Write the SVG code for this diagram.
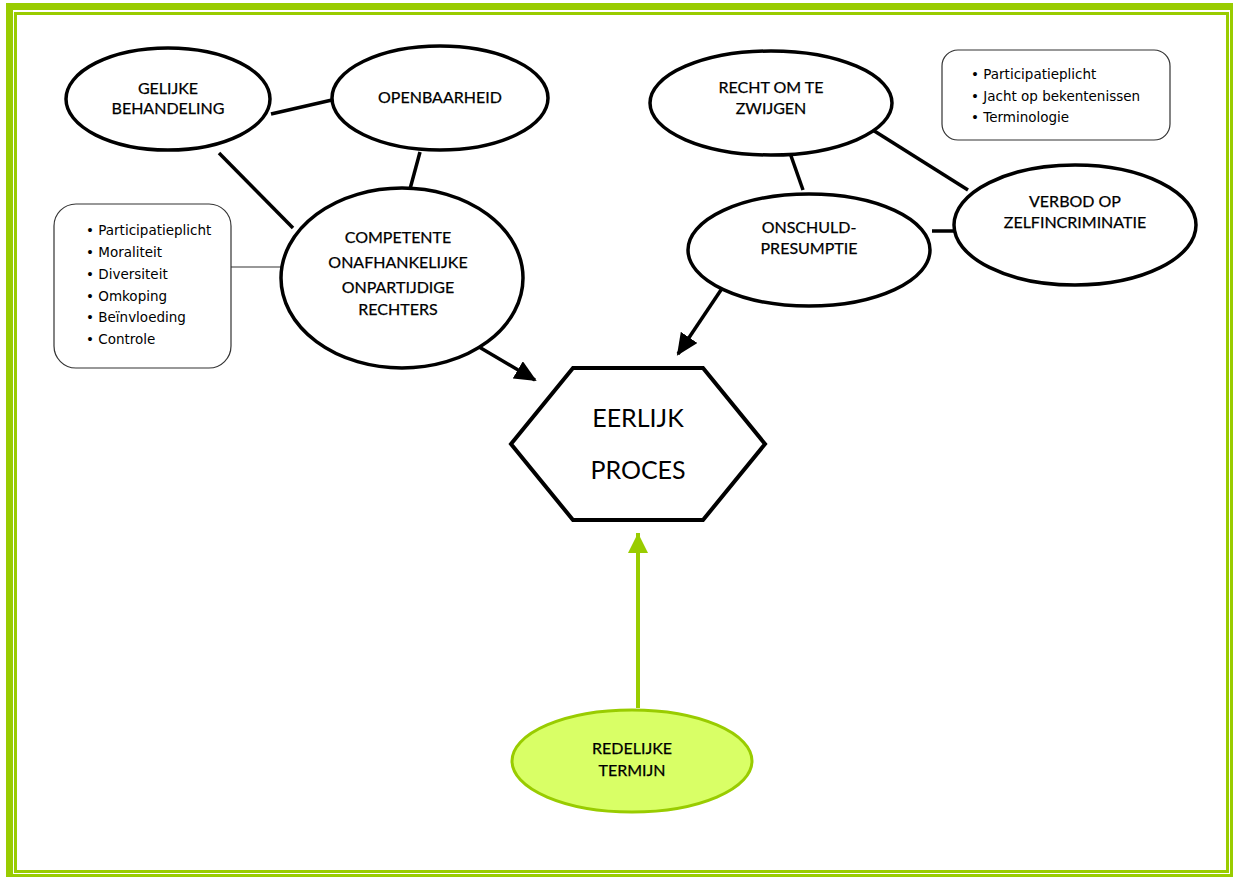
<svg xmlns="http://www.w3.org/2000/svg" width="1233" height="877" viewBox="0 0 1233 877">
<style>
.node{fill:#fff;stroke:#000;stroke-width:3.5}
.t{font-family:Lato,"Open Sans",sans-serif;font-size:16px;fill:#000;text-anchor:middle;stroke:#000;stroke-width:0.25}
.big{font-family:Lato,"Open Sans",sans-serif;font-size:25px;fill:#000;text-anchor:middle}
.b{font-family:"DejaVu Sans",sans-serif;font-size:13.5px;fill:#000}
.box{fill:#fff;stroke:#333;stroke-width:1.2}
.c{stroke:#000;stroke-width:3.5;fill:none}
.g{fill:#99cc00}
</style>
<defs>
<marker id="ah" markerUnits="userSpaceOnUse" markerWidth="24" markerHeight="20" refX="20" refY="10" orient="auto"><path d="M0,0 L22,10 L0,20 Z" fill="#000"/></marker>
<marker id="ahg" markerUnits="userSpaceOnUse" markerWidth="22" markerHeight="20" refX="20" refY="10" orient="auto"><path d="M0,0 L20,10 L0,20 Z" fill="#99cc00"/></marker>
</defs>
<rect width="1233" height="877" fill="#fff"/>
<g id="border">
<rect class="g" x="6" y="3" width="7" height="874"/>
<rect class="g" x="6" y="3" width="1227" height="7"/>
<rect class="g" x="1230" y="3" width="3" height="874"/>
<rect class="g" x="6" y="874" width="1227" height="3"/>
<rect class="g" x="14" y="12" width="3" height="861"/>
<rect class="g" x="14" y="12" width="1215" height="3"/>
<rect class="g" x="1226" y="12" width="3" height="861"/>
<rect class="g" x="14" y="870" width="1215" height="3"/>
</g>
<g id="connectors">
<line class="c" x1="271" y1="114" x2="332" y2="100"/>
<line class="c" x1="219" y1="153" x2="293" y2="228"/>
<line class="c" x1="420" y1="152" x2="410" y2="189"/>
<line x1="231" y1="267" x2="281" y2="267" stroke="#333" stroke-width="1.2"/>
<line class="c" x1="790" y1="153" x2="803" y2="190"/>
<line class="c" x1="868" y1="127" x2="968" y2="190"/>
<line class="c" x1="932" y1="231" x2="954" y2="231"/>
<line class="c" x1="474" y1="344" x2="535" y2="380" marker-end="url(#ah)"/>
<line class="c" x1="727" y1="281" x2="678" y2="354" marker-end="url(#ah)"/>
<line x1="638" y1="708" x2="638" y2="533" stroke="#99cc00" stroke-width="4" marker-end="url(#ahg)"/>
</g>
<g id="gelijke">
<ellipse class="node" cx="168" cy="99" rx="102" ry="51"/>
<text class="t" x="168" y="94">GELIJKE</text>
<text class="t" x="168" y="114">BEHANDELING</text>
</g>
<g id="openbaarheid">
<ellipse class="node" cx="440" cy="98" rx="108" ry="52"/>
<text class="t" x="440" y="103">OPENBAARHEID</text>
</g>
<g id="rechters">
<ellipse class="node" cx="402" cy="278" rx="121" ry="90"/>
<text class="t" x="398" y="243">COMPETENTE</text>
<text class="t" x="398" y="268">ONAFHANKELIJKE</text>
<text class="t" x="398" y="293">ONPARTIJDIGE</text>
<text class="t" x="398" y="315">RECHTERS</text>
</g>
<g id="box-left">
<rect class="box" x="54" y="204" width="177" height="164" rx="22"/>
<text class="b" x="86" y="235">• Participatieplicht</text>
<text class="b" x="86" y="257">• Moraliteit</text>
<text class="b" x="86" y="279">• Diversiteit</text>
<text class="b" x="86" y="301">• Omkoping</text>
<text class="b" x="86" y="322">• Beïnvloeding</text>
<text class="b" x="86" y="344">• Controle</text>
</g>
<g id="zwijgen">
<ellipse class="node" cx="771" cy="103" rx="121" ry="52"/>
<text class="t" x="771" y="93">RECHT OM TE</text>
<text class="t" x="771" y="114">ZWIJGEN</text>
</g>
<g id="box-right">
<rect class="box" x="942" y="50" width="228" height="90" rx="16"/>
<text class="b" x="971" y="79">• Participatieplicht</text>
<text class="b" x="971" y="101">• Jacht op bekentenissen</text>
<text class="b" x="971" y="122">• Terminologie</text>
</g>
<g id="onschuld">
<ellipse class="node" cx="809" cy="250" rx="121" ry="56"/>
<text class="t" x="809" y="233">ONSCHULD-</text>
<text class="t" x="809" y="254">PRESUMPTIE</text>
</g>
<g id="verbod">
<ellipse class="node" cx="1075" cy="225" rx="121" ry="60"/>
<text class="t" x="1075" y="207">VERBOD OP</text>
<text class="t" x="1075" y="228">ZELFINCRIMINATIE</text>
</g>
<g id="proces">
<polygon points="511,444 573,368 703,368 765,444 703,520 573,520" fill="#fff" stroke="#000" stroke-width="4"/>
<text class="big" x="638" y="427">EERLIJK</text>
<text class="big" x="638" y="479">PROCES</text>
</g>
<g id="termijn">
<ellipse cx="632" cy="761" rx="120" ry="51" fill="#d9ff66" stroke="#99cc00" stroke-width="3"/>
<text class="t" x="632" y="754">REDELIJKE</text>
<text class="t" x="632" y="776">TERMIJN</text>
</g>
</svg>
